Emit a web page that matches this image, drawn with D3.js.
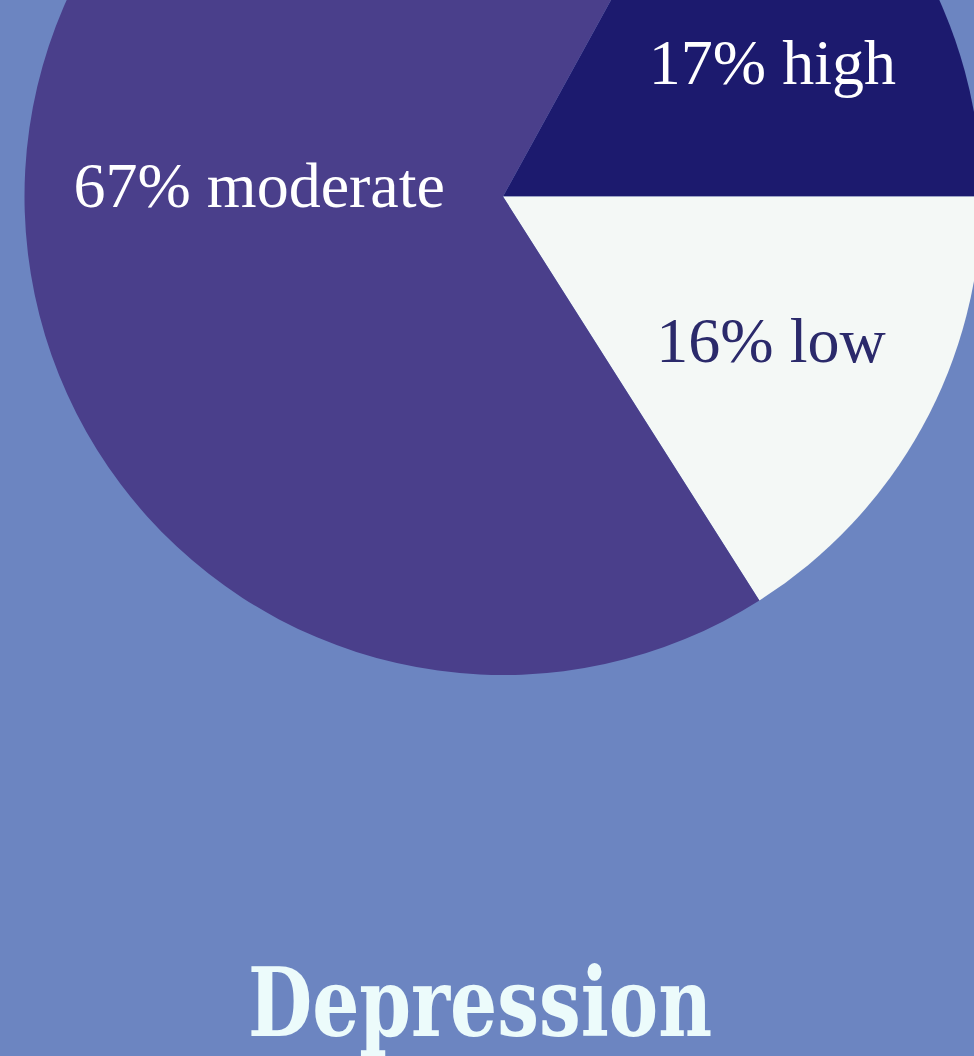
<!DOCTYPE html>
<html>
<head>
<meta charset="utf-8">
<script src="https://cdn.jsdelivr.net/npm/d3@7"></script>
<style>
  html, body { margin: 0; padding: 0; background: #6c85c1; }
  svg { display: block; }
</style>
</head>
<body>
<svg id="chart" width="974" height="1056"></svg>
<script>
// Depression levels (percent of respondents)
const categories = ["high", "low", "moderate"];
const values = [17, 16, 67];
const title = "Depression";

// Styling per category
const sliceColors = { high: "#1c1a6e", low: "#f4f8f6", moderate: "#4a3f8b" };
const labelColors = { high: "#ffffff", low: "#2b2a6b", moderate: "#ffffff" };
// Label placement: polar angle (degrees clockwise from 12 o'clock) and radius
const labelPolar = {
  high: { angle: 67.3, radius: 292 },
  low: { angle: 121.7, radius: 315 },
  moderate: { angle: 267.5, radius: 244 }
};

const width = 974, height = 1056;
const cx = 503, cy = 196.5, radius = 478.5;

const svg = d3.select("#chart");
svg.append("rect").attr("width", width).attr("height", height).attr("fill", "#6c85c1");

const data = categories.map((c, i) => ({ category: c, value: values[i] }));

const startDeg = 90 - 360 * values[0] / d3.sum(values);
const pie = d3.pie()
  .sort(null)
  .value(d => d.value)
  .startAngle(startDeg * Math.PI / 180)
  .endAngle(startDeg * Math.PI / 180 + 2 * Math.PI);

const arc = d3.arc().innerRadius(0).outerRadius(radius);

const g = svg.append("g").attr("transform", `translate(${cx},${cy})`);

g.selectAll("path.slice")
  .data(pie(data))
  .join("path")
  .attr("class", "slice")
  .attr("d", arc)
  .attr("fill", d => sliceColors[d.data.category]);

g.selectAll("text.label")
  .data(pie(data))
  .join("text")
  .attr("class", "label")
  .each(function (d) {
    const p = labelPolar[d.data.category];
    const [x, y] = d3.pointRadial(p.angle * Math.PI / 180, p.radius);
    d3.select(this).attr("x", x).attr("y", y);
  })
  .attr("text-anchor", "middle")
  .attr("font-family", "'Liberation Serif', 'Times New Roman', serif")
  .attr("font-size", 64)
  .attr("fill", d => labelColors[d.data.category])
  .text(d => `${d.data.value}% ${d.data.category}`);

// Title: bold slab serif, set narrow
svg.append("g")
  .attr("transform", "translate(480,1036) scale(0.78,1)")
  .append("text")
  .attr("x", 0)
  .attr("y", 0)
  .attr("text-anchor", "middle")
  .attr("font-family", "'DejaVu Serif', serif")
  .attr("font-weight", "bold")
  .attr("font-size", 95)
  .attr("fill", "#ecfbfb")
  .text(title);
</script>
</body>
</html>
